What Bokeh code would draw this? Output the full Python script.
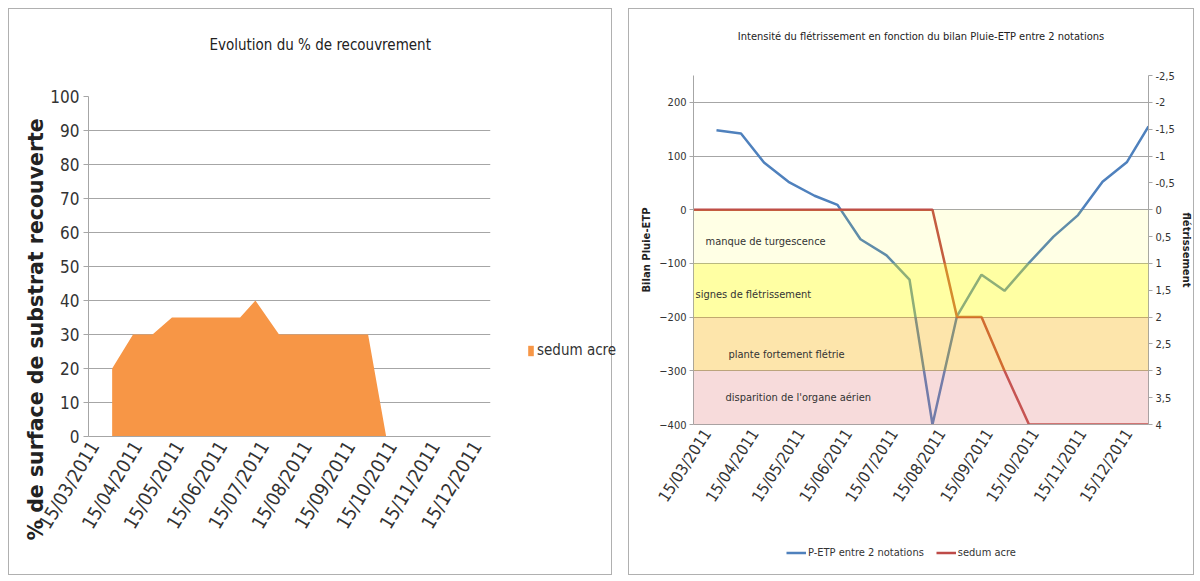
import math
from datetime import datetime

from bokeh.plotting import figure
from bokeh.models import (Range1d, LinearAxis, FixedTicker, DatetimeTickFormatter, Title,
                          Legend, LegendItem, ColumnDataSource, BoxAnnotation, Label,
                          CustomJSTickFormatter)
from bokeh.embed import file_html
from bokeh.resources import INLINE

# ---------------- data ----------------
# Left chart: % recouvrement (sedum acre)
cov_dates = ["2011-03-28", "2011-04-12", "2011-04-26", "2011-05-10", "2011-06-28",
             "2011-07-09", "2011-07-26", "2011-09-28", "2011-10-11"]
cov_values = [20, 30, 30, 35, 35, 40, 30, 30, 0]

# Right chart: bilan Pluie-ETP entre 2 notations (left axis)
bilan_dates = ["2011-03-21", "2011-04-06", "2011-04-21", "2011-05-07", "2011-05-24",
               "2011-06-08", "2011-06-23", "2011-07-10", "2011-07-25", "2011-08-09",
               "2011-08-25", "2011-09-10", "2011-09-25", "2011-10-11", "2011-10-27",
               "2011-11-12", "2011-11-28", "2011-12-14", "2011-12-28"]
bilan_values = [148, 142, 88, 52, 26, 9, -55, -85, -130, -400,
                -198, -121, -151, -99, -50, -10, 52, 89, 155]

# Right chart: flétrissement sedum acre (right axis, reversed)
wilt_dates = ["2011-03-06"] + bilan_dates
wilt_values = [0, 0, 0, 0, 0, 0, 0, 0, 0, 0, 0, 2, 2, 3, 4, 4, 4, 4, 4, 4]

# Wilting classes (bands on the Pluie-ETP scale)
band_labels = ["manque de turgescence", "signes de flétrissement",
               "plante fortement flétrie", "disparition de l'organe aérien"]
band_top = [0, -100, -200, -300]
band_bottom = [-100, -200, -300, -400]

tick_dates = ["2011-03-15", "2011-04-15", "2011-05-15", "2011-06-15", "2011-07-15",
              "2011-08-15", "2011-09-15", "2011-10-15", "2011-11-15", "2011-12-15"]
cov_yticks = list(range(0, 101, 10))
bilan_yticks = [-400, -300, -200, -100, 0, 100, 200]
wilt_yticks = [-2.5, -2, -1.5, -1, -0.5, 0, 0.5, 1, 1.5, 2, 2.5, 3, 3.5, 4]

# ---------------- helpers / styles ----------------
def d(s):
    return datetime.strptime(s, "%Y-%m-%d")

def ms(s):
    return (d(s) - datetime(1970, 1, 1)).total_seconds() * 1000.0

NARROW = "Liberation Sans Narrow, DejaVu Sans Condensed, sans-serif"
BOLD = "DejaVu Sans"
TXT = "#333333"
GRID = "#A6A6A6"
FMT = "%d/%m/%Y"
ORANGE = "#F79646"
BLUE = "#4F81BD"
RED = "#BE4B48"

def date_fmt():
    return DatetimeTickFormatter(microseconds=FMT, milliseconds=FMT, seconds=FMT, minsec=FMT,
                                 minutes=FMT, hourmin=FMT, hours=FMT, days=FMT, months=FMT,
                                 years=FMT)

def place(left, top, border=True):
    st = {"position": "absolute", "left": f"{left}px", "top": f"{top}px"}
    if border:
        st["border"] = "1px solid #B0B0B0"
    return st

def spacer(size):
    return Title(text=" ", text_font_size="1px", standoff=size)

def legend_box(width, height, left, top):
    # small frame that only carries a legend; its ranges keep the series out of view
    f = figure(width=width, height=height, toolbar_location=None, output_backend="svg",
               x_range=Range1d(0, 1), y_range=Range1d(0, 1), min_border=0,
               x_axis_location=None, y_axis_location=None, outline_line_color=None,
               background_fill_color=None, border_fill_color=None)
    f.grid.visible = False
    f.styles = place(left, top, border=False)
    return f

# ---------------- left chart ----------------
p1 = figure(width=604, height=567, x_axis_type="datetime", output_backend="svg",
            toolbar_location=None,
            x_range=Range1d(start=d("2011-03-11"), end=d("2011-12-25")),
            y_range=Range1d(start=0, end=100),
            min_border_left=79, min_border_right=123, min_border_top=87, min_border_bottom=140)
p1.styles = place(8, 8)
p1.outline_line_color = None
src1 = ColumnDataSource(dict(x=[d(s) for s in cov_dates], y=cov_values))
p1.varea(x="x", y1=0, y2="y", source=src1, fill_color=ORANGE)

p1.xgrid.visible = False
p1.ygrid.grid_line_color = GRID
p1.yaxis.ticker = FixedTicker(ticks=cov_yticks)
p1.xaxis.ticker = FixedTicker(ticks=[ms(s) for s in tick_dates])
p1.xaxis.formatter = date_fmt()
p1.xaxis.major_label_orientation = 1.03
for ax in (p1.xaxis[0], p1.yaxis[0]):
    ax.axis_line_color = GRID
    ax.major_tick_line_color = GRID
    ax.minor_tick_line_color = None
    ax.major_label_text_font = NARROW
    ax.major_label_text_color = TXT
p1.xaxis.major_tick_out = 0
p1.xaxis.major_tick_in = 0
p1.yaxis.major_tick_out = 5
p1.yaxis.major_tick_in = 0
p1.yaxis.major_label_standoff = 4
p1.yaxis.major_label_text_font_size = "17px"
p1.xaxis.major_label_text_font_size = "19px"
p1.xaxis.major_label_standoff = 6

p1.add_layout(spacer(35), "above")
p1.title.text = "Evolution du % de recouvrement"
p1.title.align = "left"
p1.title.offset = 121
p1.title.standoff = 10
p1.title.text_font = NARROW
p1.title.text_font_size = "15px"
p1.title.text_font_style = "normal"
p1.title.text_color = "#222222"

ylab = Title(text="% de surface de substrat recouverte", align="left", offset=-104,
             standoff=0, text_font=BOLD, text_font_style="bold", text_font_size="20.5px",
             text_color="#222222")
p1.add_layout(ylab, "left")

# legend of the left chart (sits in the right margin of the chart)
lg1 = legend_box(100, 24, 527, 338)
sw1 = lg1.varea(x="x", y1=0, y2="y", source=src1, fill_color=ORANGE)
lg1.add_layout(Legend(items=[LegendItem(label="sedum acre", renderers=[sw1])],
                      location="center_left", label_text_font=NARROW,
                      label_text_font_size="15px", label_text_color=TXT,
                      glyph_width=7, glyph_height=13, padding=0, margin=0, label_standoff=3,
                      border_line_color=None, background_fill_color=None))

# ---------------- right chart ----------------
p2 = figure(width=566, height=567, x_axis_type="datetime", output_backend="svg",
            toolbar_location=None,
            x_range=Range1d(start=d("2011-03-06"), end=d("2011-12-28")),
            y_range=Range1d(start=-400, end=250),
            min_border_left=64, min_border_right=47, min_border_top=66, min_border_bottom=152)
p2.styles = place(628, 8)
p2.outline_line_color = None
p2.extra_y_ranges = {"wilt": Range1d(start=4, end=-2.5)}

src_b = ColumnDataSource(dict(x=[d(s) for s in bilan_dates], y=bilan_values))
src_w = ColumnDataSource(dict(x=[d(s) for s in wilt_dates], y=wilt_values))
p2.line(x="x", y="y", source=src_b, line_color=BLUE, line_width=2.5)
p2.line(x="x", y="y", source=src_w, y_range_name="wilt", line_color=RED, line_width=2.5)

band_fill = ["#FFFF00", "#FFFF00", "#F8B000", "#E07070"]
band_alpha = [0.10, 0.36, 0.33, 0.25]
band_x_px = [12, 2, 35, 32]
band_y_shift = [-9, -7, -20, 1]
for lab, top, bot, col, al, xp, ys in zip(band_labels, band_top, band_bottom, band_fill,
                                          band_alpha, band_x_px, band_y_shift):
    p2.add_layout(BoxAnnotation(top=top, bottom=bot, fill_color=col, fill_alpha=al,
                                line_color=None))
    p2.add_layout(Label(x=xp, x_units="screen", y=(top + bot) / 2 + ys, text=lab,
                        text_baseline="middle", text_font=NARROW, text_font_size="11px",
                        text_color="#333333"))

p2.xgrid.visible = False
p2.ygrid.grid_line_color = GRID
p2.yaxis.ticker = FixedTicker(ticks=bilan_yticks)
p2.yaxis.axis_label = "Bilan Pluie-ETP"
p2.xaxis.ticker = FixedTicker(ticks=[ms(s) for s in tick_dates])
p2.xaxis.formatter = date_fmt()
p2.xaxis.major_label_orientation = 1.0

ax_r = LinearAxis(y_range_name="wilt", ticker=FixedTicker(ticks=wilt_yticks),
                  formatter=CustomJSTickFormatter(code="return tick.toString().replace('.', ',');"),
                  axis_label="flétrissement")
p2.add_layout(ax_r, "right")
for ax in (p2.xaxis[0], p2.yaxis[0], ax_r):
    ax.axis_line_color = GRID
    ax.major_tick_line_color = GRID
    ax.minor_tick_line_color = None
    ax.major_label_text_font = NARROW
    ax.major_label_text_color = TXT
    ax.major_label_text_font_size = "11px"
    ax.major_tick_out = 4
    ax.major_tick_in = 0
    ax.major_label_standoff = 3
    ax.axis_label_standoff = 3
    ax.axis_label_text_font = BOLD
    ax.axis_label_text_font_style = "bold"
    ax.axis_label_text_font_size = "10px"
    ax.axis_label_text_color = "#222222"
p2.xaxis.major_tick_out = 0
p2.xaxis.major_label_text_font_size = "16px"
p2.xaxis.major_label_standoff = 6
p2.yaxis[0].axis_label_standoff = 4

p2.add_layout(spacer(25), "above")
p2.title.text = "Intensité du flétrissement en fonction du bilan Pluie-ETP entre 2 notations"
p2.title.align = "center"
p2.title.standoff = 10
p2.title.text_font = NARROW
p2.title.text_font_size = "11px"
p2.title.text_font_style = "normal"
p2.title.text_color = "#222222"

# legend of the right chart (under the date labels)
lg2 = legend_box(250, 18, 786, 543)
sw_b = lg2.line(x="x", y="y", source=src_b, line_color=BLUE, line_width=2.5)
sw_r = lg2.line(x="x", y="y", source=src_w, line_color=RED, line_width=2.5)
lg2.add_layout(Legend(items=[LegendItem(label="P-ETP entre 2 notations", renderers=[sw_b]),
                             LegendItem(label="sedum acre", renderers=[sw_r])],
                      orientation="horizontal", location="center_left",
                      label_text_font=NARROW, label_text_font_size="11px",
                      label_text_color=TXT, glyph_width=20, glyph_height=10, padding=0,
                      margin=0, spacing=12, label_standoff=2, border_line_color=None,
                      background_fill_color=None))

open("out.html", "w").write(file_html([p1, p2, lg1, lg2], INLINE))
